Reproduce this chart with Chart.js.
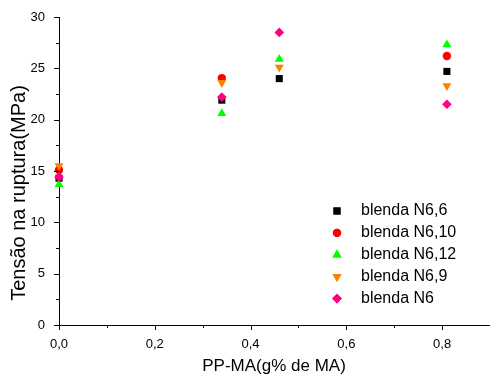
<!DOCTYPE html>
<html>
<head>
<meta charset="utf-8">
<script src="https://cdn.jsdelivr.net/npm/chart.js@4/dist/chart.umd.min.js"></script>
<style>
  html, body { margin: 0; padding: 0; background: #fff; }
</style>
</head>
<body>
<canvas id="mainChart" width="490" height="375"></canvas>
<script>
// PP-MA content (g% de MA)
const xValues = [0, 0.34, 0.46, 0.81];

const seriesNames = ['blenda N6,6', 'blenda N6,10', 'blenda N6,12', 'blenda N6,9', 'blenda N6'];

// Tensão na ruptura (MPa) (null = no visible point)
const n6_6  = [14.3, 21.9, 24.0, 24.7];
const n6_10 = [15.1, 24.05, null, 26.2];
const n6_12 = [13.7, 20.6, 25.9, 27.3];
const n6_9  = [15.5, 23.6, 25.1, 23.3];
const n6    = [14.4, 22.2, 28.5, 21.5];

const FONT = 'Arial, "Liberation Sans", sans-serif';

const styles = [
  { color: '#000000', pointStyle: 'rect', radius: 5, rotation: 0 },
  { color: '#ff0000', pointStyle: 'circle', radius: 4.2, rotation: 0 },
  { color: '#00ff00', pointStyle: 'triangle', radius: 5.2, rotation: 0 },
  { color: '#ff8000', pointStyle: 'triangle', radius: 5.2, rotation: 180 },
  { color: '#ff0080', pointStyle: 'rectRot', radius: 4.8, rotation: 0 }
];

const allSeries = [n6_6, n6_10, n6_12, n6_9, n6];

const datasets = allSeries.map((vals, i) => ({
  label: seriesNames[i],
  data: vals.map((v, k) => ({ x: xValues[k], y: v })),
  backgroundColor: styles[i].color,
  borderColor: styles[i].color,
  pointStyle: styles[i].pointStyle,
  pointRadius: styles[i].radius,
  pointRotation: styles[i].rotation,
  pointBorderWidth: 0,
  pointHoverRadius: styles[i].radius,
  clip: false,
  order: allSeries.length - i
}));

const isMultiple = (v, step) => Math.abs(v / step - Math.round(v / step)) < 1e-6;

// minor/major tick marks, axis titles and the inset legend
const decor = {
  id: 'decor',
  afterDraw(chart) {
    const { ctx, chartArea, scales: { x, y } } = chart;
    ctx.save();
    ctx.strokeStyle = '#000';
    ctx.lineWidth = 1;
    ctx.beginPath();
    x.ticks.forEach(t => {
      const px = Math.round(x.getPixelForValue(t.value)) + 0.5;
      const len = isMultiple(t.value, 0.2) ? 5 : 3;
      ctx.moveTo(px, chartArea.bottom);
      ctx.lineTo(px, chartArea.bottom + len);
    });
    y.ticks.forEach(t => {
      const py = Math.round(y.getPixelForValue(t.value)) + 0.5;
      const len = isMultiple(t.value, 5) ? 5 : 3;
      ctx.moveTo(chartArea.left, py);
      ctx.lineTo(chartArea.left - len, py);
    });
    ctx.stroke();

    // axis titles
    ctx.fillStyle = '#000';
    ctx.textAlign = 'center';
    ctx.textBaseline = 'middle';
    ctx.font = '17px ' + FONT;
    ctx.fillText('PP-MA(g% de MA)', 274, 366);
    ctx.save();
    ctx.translate(19, 193);
    ctx.rotate(-Math.PI / 2);
    ctx.font = '20px ' + FONT;
    ctx.fillText('Tensão na ruptura(MPa)', 0, 0);
    ctx.restore();

    // legend
    ctx.font = '16px ' + FONT;
    ctx.textAlign = 'left';
    chart.data.datasets.forEach((ds, i) => {
      const ly = 211 + i * 21.9;
      ctx.fillStyle = ds.backgroundColor;
      Chart.helpers.drawPoint(ctx, {
        pointStyle: ds.pointStyle,
        radius: ds.pointRadius,
        rotation: ds.pointRotation,
        borderWidth: 0
      }, 337, ly);
      ctx.fill();
      ctx.fillStyle = '#000';
      ctx.fillText(ds.label, 361, ly);
    });
    ctx.restore();
  }
};

new Chart(document.getElementById('mainChart').getContext('2d'), {
  type: 'scatter',
  data: { datasets },
  options: {
    responsive: false,
    animation: false,
    devicePixelRatio: 1,
    layout: { autoPadding: false, padding: { top: 17, right: 0, bottom: 0, left: 0 } },
    plugins: {
      legend: { display: false },
      tooltip: { enabled: false }
    },
    scales: {
      x: {
        type: 'linear',
        min: 0,
        max: 0.9,
        grid: { display: false },
        border: { display: true, color: '#000', width: 1 },
        ticks: {
          stepSize: 0.1,
          autoSkip: false,
          maxRotation: 0,
          padding: 4,
          color: '#000',
          font: { family: FONT, size: 13 },
          callback: v => isMultiple(v, 0.2) ? v.toFixed(1).replace('.', ',') : ''
        },
        afterFit: s => {
          s.height = 50;
          s.paddingLeft = 0;
          s.paddingRight = 0;
        }
      },
      y: {
        type: 'linear',
        min: 0,
        max: 30,
        grid: { display: false },
        border: { display: true, color: '#000', width: 1 },
        ticks: {
          stepSize: 2.5,
          autoSkip: false,
          padding: 6,
          color: '#000',
          font: { family: FONT, size: 13 },
          callback: v => isMultiple(v, 5) ? String(v) : ''
        },
        afterFit: s => {
          s.width = 59;
          s.paddingTop = 0;
          s.paddingBottom = 0;
        }
      }
    }
  },
  plugins: [decor]
});
</script>
</body>
</html>
